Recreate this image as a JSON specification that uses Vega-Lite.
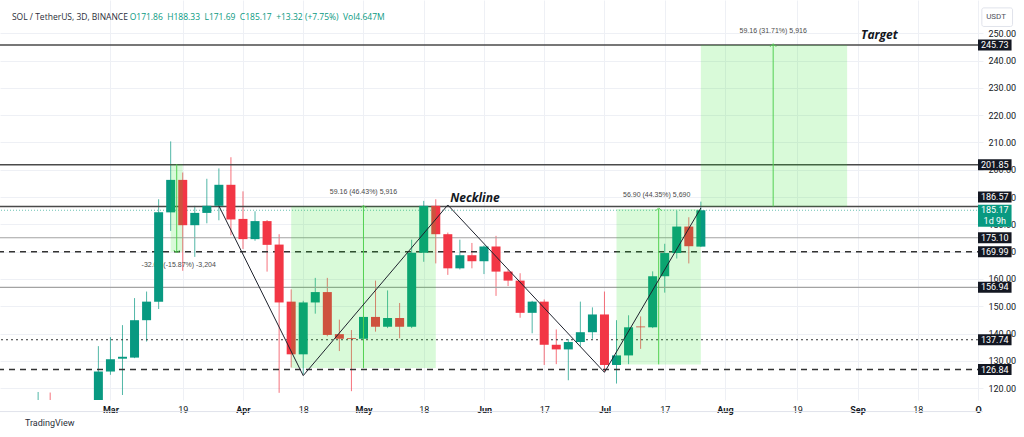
{
  "$schema": "https://vega.github.io/schema/vega-lite/v6.json",
  "width": 983,
  "height": 400,
  "autosize": {"type": "none"},
  "padding": {"left": 0, "top": 0, "right": 41, "bottom": 37},
  "background": "white",
  "config": {"view": {"stroke": null}, "font": "Roboto"},
  "datasets": {
    "candles": [
      {"d":"2024-02-10","o":112,"h":118.6,"l":106,"c":115},
      {"d":"2024-02-13","o":115,"h":118.4,"l":108,"c":112},
      {"d":"2024-02-25","o":110,"h":135.4,"l":106,"c":126.1},
      {"d":"2024-02-28","o":126.1,"h":138.7,"l":124.9,"c":130.6},
      {"d":"2024-03-02","o":130.8,"h":143.1,"l":117.5,"c":131.5},
      {"d":"2024-03-05","o":131.2,"h":153,"l":131,"c":144.9},
      {"d":"2024-03-08","o":144.9,"h":155.4,"l":137.1,"c":151.7},
      {"d":"2024-03-11","o":151.7,"h":189.2,"l":149,"c":184.4},
      {"d":"2024-03-14","o":184.4,"h":210.4,"l":177.6,"c":196.3},
      {"d":"2024-03-17","o":196.3,"h":199,"l":163,"c":179.7},
      {"d":"2024-03-20","o":179.7,"h":186.8,"l":168.1,"c":184.2},
      {"d":"2024-03-23","o":184.2,"h":196.7,"l":180.4,"c":186.8},
      {"d":"2024-03-26","o":186.8,"h":200.5,"l":181.5,"c":194.5},
      {"d":"2024-03-29","o":194.5,"h":204.6,"l":176,"c":181.8},
      {"d":"2024-04-01","o":182,"h":192.1,"l":171,"c":174.6},
      {"d":"2024-04-04","o":174.6,"h":184.8,"l":174,"c":181.2},
      {"d":"2024-04-07","o":181.2,"h":181.6,"l":162.7,"c":172.5},
      {"d":"2024-04-10","o":172.6,"h":176.4,"l":118.3,"c":151.4},
      {"d":"2024-04-13","o":151.7,"h":156.2,"l":127.6,"c":132.4},
      {"d":"2024-04-16","o":132.4,"h":152,"l":125,"c":151.4},
      {"d":"2024-04-19","o":151.4,"h":160.4,"l":147.3,"c":155.2},
      {"d":"2024-04-22","o":155.2,"h":160.4,"l":139,"c":139.5},
      {"d":"2024-04-25","o":139.8,"h":145.1,"l":133.6,"c":138.1},
      {"d":"2024-04-28","o":138.3,"h":141.3,"l":118.9,"c":138},
      {"d":"2024-05-01","o":138.1,"h":146.5,"l":137.8,"c":146.1},
      {"d":"2024-05-04","o":146.1,"h":159.4,"l":140.7,"c":142.5},
      {"d":"2024-05-07","o":142.5,"h":155.8,"l":142,"c":145.7},
      {"d":"2024-05-10","o":145.7,"h":151.2,"l":138.3,"c":142.5},
      {"d":"2024-05-13","o":142.5,"h":174.4,"l":142,"c":169.6},
      {"d":"2024-05-16","o":169.6,"h":188.6,"l":166.3,"c":186.8},
      {"d":"2024-05-19","o":186.8,"h":189.2,"l":165.7,"c":176.4},
      {"d":"2024-05-22","o":176.4,"h":177,"l":161.5,"c":163.9},
      {"d":"2024-05-25","o":163.9,"h":174.4,"l":163.5,"c":168.7},
      {"d":"2024-05-28","o":168.7,"h":173.2,"l":163.9,"c":166.5},
      {"d":"2024-05-31","o":166.5,"h":172.3,"l":161.8,"c":171.9},
      {"d":"2024-06-03","o":171.9,"h":175.8,"l":153.8,"c":162.7},
      {"d":"2024-06-06","o":162.7,"h":163.5,"l":157.4,"c":159.4},
      {"d":"2024-06-09","o":159.4,"h":162.1,"l":145.8,"c":147.6},
      {"d":"2024-06-12","o":147.6,"h":152,"l":140.1,"c":151.7},
      {"d":"2024-06-15","o":151.7,"h":152.5,"l":128.5,"c":135.9},
      {"d":"2024-06-18","o":135.9,"h":141.5,"l":128.8,"c":134.2},
      {"d":"2024-06-21","o":134.2,"h":138,"l":122.9,"c":136.9},
      {"d":"2024-06-24","o":136.9,"h":151.7,"l":135.4,"c":140.5},
      {"d":"2024-06-27","o":140.5,"h":149.6,"l":138.1,"c":147},
      {"d":"2024-06-30","o":147,"h":155.4,"l":126,"c":128.5},
      {"d":"2024-07-03","o":128.5,"h":144.9,"l":121.7,"c":132},
      {"d":"2024-07-06","o":132,"h":146.7,"l":128.8,"c":142.3},
      {"d":"2024-07-09","o":142.6,"h":146.3,"l":134.4,"c":142.3},
      {"d":"2024-07-12","o":142.3,"h":162.8,"l":142,"c":161},
      {"d":"2024-07-15","o":161,"h":172.9,"l":155,"c":169.5},
      {"d":"2024-07-18","o":169.5,"h":185,"l":167.5,"c":179.2},
      {"d":"2024-07-21","o":179.2,"h":182.6,"l":165.7,"c":172},
      {"d":"2024-07-24","o":171.86,"h":188.33,"l":171.69,"c":185.17}
    ],
    "boxes": [
      {"t1":"2024-03-14","t2":"2024-03-17","p1":169.96,"p2":202.0},
      {"t1":"2024-04-13","t2":"2024-05-19","p1":127.41,"p2":186.57},
      {"t1":"2024-07-03","t2":"2024-07-24","p1":128.71,"p2":185.61},
      {"t1":"2024-07-24","t2":"2024-08-29T10:00:00Z","p1":186.57,"p2":245.73}
    ],
    "measures": [
      {"t":"2024-03-15T12:00:00Z","p1":169.96,"p2":202.0},
      {"t":"2024-05-01","p1":127.41,"p2":186.57},
      {"t":"2024-07-13T12:00:00Z","p1":128.71,"p2":185.61},
      {"t":"2024-08-11","p1":186.57,"p2":245.73}
    ],
    "arrowsUp": [
      {"t":"2024-05-01","p":186.57},
      {"t":"2024-07-13T12:00:00Z","p":185.61},
      {"t":"2024-08-11","p":245.73}
    ],
    "arrowsDown": [
      {"t":"2024-03-15T12:00:00Z","p":169.96}
    ],
    "measureLabels": [
      {"t":"2024-03-16","p":165.1,"label":"-32.04 (-15.87%) -3,204"},
      {"t":"2024-05-01","p":191.9,"label":"59.16 (46.43%) 5,916"},
      {"t":"2024-07-13","p":190.7,"label":"56.90 (44.35%) 5,690"},
      {"t":"2024-08-11","p":250.8,"label":"59.16 (31.71%) 5,916"}
    ],
    "patternLabels": [
      {"t":"2024-05-22T14:00:00Z","p":189.75,"label":"Neckline"},
      {"t":"2024-09-01T21:00:00Z","p":249.4,"label":"Target"}
    ],
    "zigzag": [
      {"t":"2024-03-26","p":186.8},
      {"t":"2024-04-16","p":124.6},
      {"t":"2024-05-22","p":187.1},
      {"t":"2024-06-30","p":125.8},
      {"t":"2024-07-24","p":186.0}
    ],
    "levelsMajor": [{"p":245.73},{"p":201.85},{"p":186.57}],
    "levelsMinor": [{"p":175.10},{"p":156.94}],
    "levelsDashed": [{"p":169.99},{"p":126.84}],
    "levelsDotted": [{"p":137.74}],
    "current": [{"p":185.17,"label":"185.17","sub":"1d 9h"}],
    "priceTags": [{"p":245.73},{"p":201.85},{"p":175.10},{"p":169.99},{"p":156.94},{"p":137.74},{"p":126.84}],
    "neckTag": [{"p":186.57}],
    "header": [{"name":"SOL / TetherUS, 3D, BINANCE","ohlc":"O171.86\u00a0\u00a0H188.33\u00a0\u00a0L171.69\u00a0\u00a0C185.17\u00a0\u00a0+13.32 (+7.75%)\u00a0\u00a0Vol4.647M","unit":"USDT","brand":"TradingView"}]
  },
  "layer": [
    {
      "data": {"name": "candles"},
      "mark": {"type": "rule", "clip": true, "strokeWidth": 1, "opacity": 0.7},
      "encoding": {
        "x": {
          "field": "d", "type": "temporal", "title": null,
          "scale": {"type": "utc", "domain": [{"year":2024,"month":2,"date":1,"hours":18,"utc":true},{"year":2024,"month":10,"date":1,"utc":true}]},
          "axis": {
            "values": [
              {"year":2024,"month":2,"date":28,"utc":true},
              {"year":2024,"month":3,"date":17,"utc":true},
              {"year":2024,"month":4,"date":1,"utc":true},
              {"year":2024,"month":4,"date":16,"utc":true},
              {"year":2024,"month":5,"date":1,"utc":true},
              {"year":2024,"month":5,"date":16,"utc":true},
              {"year":2024,"month":5,"date":31,"utc":true},
              {"year":2024,"month":6,"date":15,"utc":true},
              {"year":2024,"month":6,"date":30,"utc":true},
              {"year":2024,"month":7,"date":15,"utc":true},
              {"year":2024,"month":7,"date":30,"utc":true},
              {"year":2024,"month":8,"date":17,"utc":true},
              {"year":2024,"month":9,"date":1,"utc":true},
              {"year":2024,"month":9,"date":16,"utc":true},
              {"year":2024,"month":10,"date":1,"utc":true}
            ],
            "labelExpr": "['Mar','19','Apr','18','May','18','Jun','17','Jul','17','Aug','19','Sep','18','O'][indexof(['0228','0317','0401','0416','0501','0516','0531','0615','0630','0715','0730','0817','0901','0916','1001'], utcFormat(datum.value,'%m%d'))]",
            "labelFontWeight": {"condition": {"test": "indexof(['0228','0401','0501','0531','0630','0730','0901','1001'], utcFormat(datum.value,'%m%d')) >= 0", "value": "bold"}, "value": "normal"},
            "labelFontSize": 9,
            "labelColor": "#131722",
            "labelPadding": 5,
            "labelOverlap": false,
            "labelFlush": false,
            "ticks": false,
            "domain": false,
            "grid": true,
            "gridColor": "#eef0f5"
          }
        },
        "y": {
          "field": "l", "type": "quantitative", "title": null,
          "scale": {"domain": [117.5, 260.36], "nice": false, "zero": false},
          "axis": {
            "orient": "right",
            "values": [120,130,140,150,160,170,180,190,200,210,220,230,240,250],
            "tickCount": 15,
            "format": ".2f",
            "labelFontSize": 9,
            "labelColor": "#131722",
            "labelPadding": 5,
            "labelOverlap": false,
            "labelFlush": false,
            "ticks": false,
            "domain": false,
            "grid": true,
            "gridColor": "#eef0f5"
          }
        },
        "y2": {"field": "h"},
        "color": {"condition": {"test": "datum.c >= datum.o", "value": "#089981"}, "value": "#F23645"}
      }
    },
    {
      "data": {"name": "levelsMajor"},
      "mark": {"type": "rule", "color": "#4a4a4a", "strokeWidth": 1.6},
      "encoding": {"y": {"field": "p", "type": "quantitative", "title": null}}
    },
    {
      "data": {"name": "levelsMinor"},
      "mark": {"type": "rule", "color": "#a3a3a3", "strokeWidth": 1.2},
      "encoding": {"y": {"field": "p", "type": "quantitative", "title": null}}
    },
    {
      "data": {"name": "levelsDashed"},
      "mark": {"type": "rule", "color": "#333333", "strokeWidth": 1.5, "strokeDash": [6, 5]},
      "encoding": {"y": {"field": "p", "type": "quantitative", "title": null}}
    },
    {
      "data": {"name": "levelsDotted"},
      "mark": {"type": "rule", "color": "#333333", "strokeWidth": 1, "strokeDash": [2, 3]},
      "encoding": {"y": {"field": "p", "type": "quantitative", "title": null}}
    },
    {
      "data": {"name": "current"},
      "mark": {"type": "rule", "color": "#089981", "strokeWidth": 1, "strokeDash": [1, 2], "opacity": 0.6},
      "encoding": {"y": {"field": "p", "type": "quantitative", "title": null}}
    },
    {
      "data": {"name": "measureLabels"},
      "mark": {"type": "text", "fontSize": 7, "color": "#4a4a4a", "align": "center", "baseline": "middle", "font": "Liberation Sans"},
      "encoding": {
        "x": {"field": "t", "type": "temporal", "title": null},
        "y": {"field": "p", "type": "quantitative", "title": null},
        "text": {"field": "label"}
      }
    },
    {
      "data": {"name": "candles"},
      "mark": {"type": "bar", "clip": true, "width": 9},
      "encoding": {
        "x": {"field": "d", "type": "temporal", "title": null},
        "y": {"field": "o", "type": "quantitative", "title": null},
        "y2": {"field": "c"},
        "color": {"condition": {"test": "datum.c >= datum.o", "value": "#089981"}, "value": "#F23645"}
      }
    },
    {
      "data": {"name": "boxes"},
      "mark": {"type": "rect", "color": "#1fe01f", "opacity": 0.17},
      "encoding": {
        "x": {"field": "t1", "type": "temporal", "title": null},
        "x2": {"field": "t2"},
        "y": {"field": "p1", "type": "quantitative", "title": null},
        "y2": {"field": "p2"}
      }
    },
    {
      "data": {"name": "measures"},
      "mark": {"type": "rule", "color": "#52d152", "strokeWidth": 1},
      "encoding": {
        "x": {"field": "t", "type": "temporal", "title": null},
        "y": {"field": "p1", "type": "quantitative", "title": null},
        "y2": {"field": "p2"}
      }
    },
    {
      "data": {"name": "arrowsUp"},
      "mark": {"type": "point", "shape": "M-1,0.6L0,-0.4L1,0.6", "filled": false, "stroke": "#52d152", "strokeWidth": 1, "size": 36, "opacity": 1},
      "encoding": {
        "x": {"field": "t", "type": "temporal", "title": null},
        "y": {"field": "p", "type": "quantitative", "title": null}
      }
    },
    {
      "data": {"name": "arrowsDown"},
      "mark": {"type": "point", "shape": "M-1,-0.6L0,0.4L1,-0.6", "filled": false, "stroke": "#52d152", "strokeWidth": 1, "size": 36, "opacity": 1},
      "encoding": {
        "x": {"field": "t", "type": "temporal", "title": null},
        "y": {"field": "p", "type": "quantitative", "title": null}
      }
    },
    {
      "data": {"name": "zigzag"},
      "mark": {"type": "line", "color": "#1e222d", "strokeWidth": 1},
      "encoding": {
        "x": {"field": "t", "type": "temporal", "title": null},
        "y": {"field": "p", "type": "quantitative", "title": null}
      }
    },
    {
      "data": {"name": "patternLabels"},
      "mark": {"type": "text", "fontSize": 12, "fontWeight": "bold", "fontStyle": "italic", "color": "#131722", "align": "left", "baseline": "middle", "font": "Open Sans"},
      "encoding": {
        "x": {"field": "t", "type": "temporal", "title": null},
        "y": {"field": "p", "type": "quantitative", "title": null},
        "text": {"field": "label"}
      }
    },
    {
      "data": {"name": "priceTags"},
      "mark": {"type": "bar", "height": 11, "color": "#131722"},
      "encoding": {
        "x": {"datum": {"year":2024,"month":10,"date":1,"utc":true}, "type": "temporal"},
        "x2": {"datum": {"year":2024,"month":10,"date":9,"hours":8,"minutes":30,"utc":true}},
        "y": {"field": "p", "type": "quantitative", "title": null}
      }
    },
    {
      "data": {"name": "priceTags"},
      "mark": {"type": "text", "fontSize": 9, "color": "white", "align": "center", "baseline": "middle"},
      "encoding": {
        "x": {"datum": {"year":2024,"month":10,"date":5,"hours":4,"minutes":15,"utc":true}, "type": "temporal"},
        "y": {"field": "p", "type": "quantitative", "title": null},
        "text": {"field": "p", "type": "quantitative", "format": ".2f"}
      }
    },
    {
      "data": {"name": "neckTag"},
      "mark": {"type": "bar", "height": 11, "color": "#131722", "yOffset": -9.5},
      "encoding": {
        "x": {"datum": {"year":2024,"month":10,"date":1,"utc":true}, "type": "temporal"},
        "x2": {"datum": {"year":2024,"month":10,"date":9,"hours":8,"minutes":30,"utc":true}},
        "y": {"field": "p", "type": "quantitative", "title": null}
      }
    },
    {
      "data": {"name": "neckTag"},
      "mark": {"type": "text", "fontSize": 9, "color": "white", "align": "center", "baseline": "middle", "yOffset": -9.5},
      "encoding": {
        "x": {"datum": {"year":2024,"month":10,"date":5,"hours":4,"minutes":15,"utc":true}, "type": "temporal"},
        "y": {"field": "p", "type": "quantitative", "title": null},
        "text": {"field": "p", "type": "quantitative", "format": ".2f"}
      }
    },
    {
      "data": {"name": "current"},
      "mark": {"type": "bar", "height": 22, "color": "#089981", "yOffset": 5.5},
      "encoding": {
        "x": {"datum": {"year":2024,"month":10,"date":1,"utc":true}, "type": "temporal"},
        "x2": {"datum": {"year":2024,"month":10,"date":9,"hours":8,"minutes":30,"utc":true}},
        "y": {"field": "p", "type": "quantitative", "title": null}
      }
    },
    {
      "data": {"name": "current"},
      "mark": {"type": "text", "fontSize": 9, "color": "white", "align": "center", "baseline": "middle"},
      "encoding": {
        "x": {"datum": {"year":2024,"month":10,"date":5,"hours":4,"minutes":15,"utc":true}, "type": "temporal"},
        "y": {"field": "p", "type": "quantitative", "title": null},
        "text": {"field": "label"}
      }
    },
    {
      "data": {"name": "current"},
      "mark": {"type": "text", "fontSize": 9, "color": "white", "align": "center", "baseline": "middle", "dy": 11},
      "encoding": {
        "x": {"datum": {"year":2024,"month":10,"date":5,"hours":4,"minutes":15,"utc":true}, "type": "temporal"},
        "y": {"field": "p", "type": "quantitative", "title": null},
        "text": {"field": "sub"}
      }
    },
    {
      "data": {"name": "header"},
      "mark": {"type": "rect", "fill": "white", "stroke": "#e0e3eb", "strokeWidth": 1, "cornerRadius": 2},
      "encoding": {
        "x": {"datum": {"year":2024,"month":10,"date":1,"hours":23,"utc":true}, "type": "temporal"},
        "x2": {"datum": {"year":2024,"month":10,"date":9,"hours":14,"minutes":24,"utc":true}},
        "y": {"datum": 259.3, "type": "quantitative"},
        "y2": {"datum": 252.5}
      }
    },
    {
      "data": {"name": "header"},
      "mark": {"type": "text", "fontSize": 8, "color": "#50535e", "align": "center", "baseline": "middle"},
      "encoding": {
        "x": {"datum": {"year":2024,"month":10,"date":5,"hours":12,"utc":true}, "type": "temporal"},
        "y": {"datum": 255.9, "type": "quantitative"},
        "text": {"field": "unit"}
      }
    },
    {
      "data": {"name": "header"},
      "mark": {"type": "text", "fontSize": 8.5, "color": "#2a2e39", "align": "left", "baseline": "middle", "font": "Open Sans"},
      "encoding": {
        "x": {"datum": {"year":2024,"month":2,"date":3,"hours":11,"minutes":30,"utc":true}, "type": "temporal"},
        "y": {"datum": 256.1, "type": "quantitative"},
        "text": {"field": "name"}
      }
    },
    {
      "data": {"name": "header"},
      "mark": {"type": "text", "fontSize": 8.5, "color": "#089981", "align": "left", "baseline": "middle", "font": "Open Sans"},
      "encoding": {
        "x": {"datum": {"year":2024,"month":3,"date":3,"hours":19,"utc":true}, "type": "temporal"},
        "y": {"datum": 256.1, "type": "quantitative"},
        "text": {"field": "ohlc"}
      }
    },
    {
      "data": {"name": "header"},
      "mark": {"type": "rule", "color": "#e0e3eb", "strokeWidth": 1},
      "encoding": {"y": {"datum": 111.43, "type": "quantitative"}}
    },
    {
      "data": {"name": "header"},
      "mark": {"type": "text", "fontSize": 9, "color": "#2a2e39", "align": "left", "baseline": "middle"},
      "encoding": {
        "x": {"datum": {"year":2024,"month":2,"date":6,"hours":17,"utc":true}, "type": "temporal"},
        "y": {"datum": 107.1, "type": "quantitative"},
        "text": {"field": "brand"}
      }
    }
  ]
}
